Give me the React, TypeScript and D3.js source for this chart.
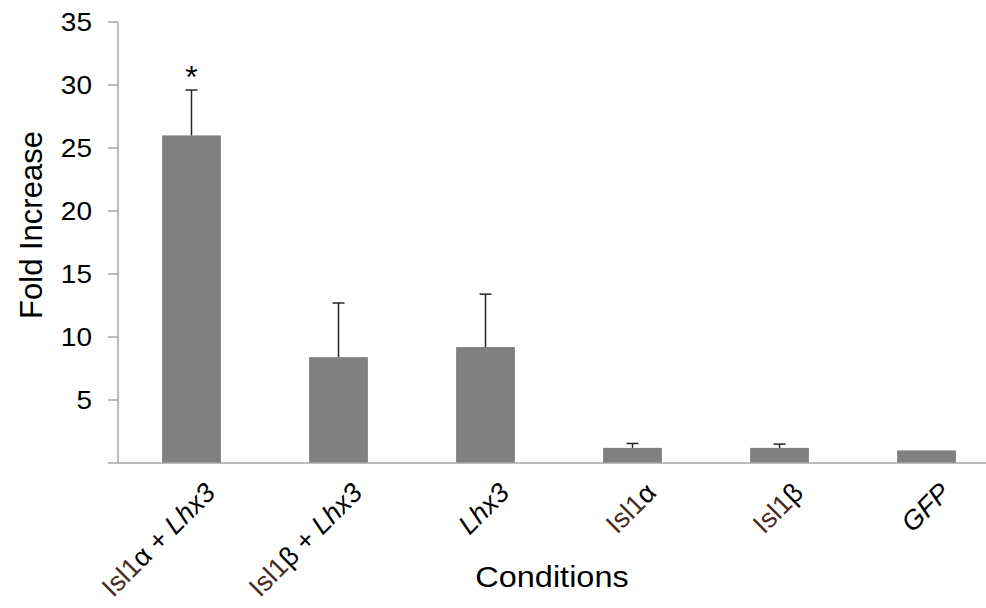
import React, { useEffect } from 'react';
import * as d3 from 'd3';

// label parts: [text, kind]  kind: 'isl' brown, 'it' italic, 'n' normal
const labelParts: [string, string][][] = [
  [['Isl1', 'isl'], ['α + ', 'n'], ['Lhx3', 'it']],
  [['Isl1', 'isl'], ['β + ', 'n'], ['Lhx3', 'it']],
  [['Lhx3', 'it']],
  [['Isl1', 'isl'], ['α', 'n']],
  [['Isl1', 'isl'], ['β', 'n']],
  [['GFP', 'it']],
];
const categories = ['Isl1a+Lhx3', 'Isl1b+Lhx3', 'Lhx3', 'Isl1a', 'Isl1b', 'GFP'];
const values = [26.0, 8.4, 9.2, 1.2, 1.2, 1.0];
const errors = [3.6, 4.3, 4.2, 0.35, 0.3, 0];
const significant = [true, false, false, false, false, false];
const yTicks = [5, 10, 15, 20, 25, 30, 35];

const W = 986;
const H = 608;
const FONT = 'Liberation Sans, Arial, Helvetica, sans-serif';
const SX = 1.12; // the source picture is a bit stretched sideways

const App = () => {
  useEffect(() => {
    document.body.style.margin = '0';
  }, []);

  const y = d3.scaleLinear().domain([0, 35]).range([463, 22]);
  const x = d3.scaleBand<string>()
    .domain(categories)
    .range([118, 1000])
    .paddingInner(0.6)
    .paddingOuter(0.3);

  const axisColor = '#a6a6a6';
  const capW = 12;

  return (
    <svg width={W} height={H} style={{ display: 'block', background: '#fff' }} fontFamily={FONT}>
      {/* y axis */}
      <line x1={118} x2={118} y1={y(35)} y2={y(0)} stroke={axisColor} strokeWidth={1.5} />
      {yTicks.map(t => (
        <g key={t}>
          <line x1={108} x2={118} y1={y(t)} y2={y(t)} stroke={axisColor} strokeWidth={1.5} />
          <text transform={`translate(92,${y(t)}) scale(${SX},1)`} dy="0.36em" textAnchor="end" fontSize={25} fill="#000">{t}</text>
        </g>
      ))}

      {/* bars */}
      {categories.map((c, i) => (
        <rect key={c} x={x(c)} y={y(values[i])} width={x.bandwidth()} height={y(0) - y(values[i])} fill="#808080" />
      ))}

      {/* error bars */}
      {categories.map((c, i) => {
        if (!errors[i]) return null;
        const cx = (x(c) as number) + x.bandwidth() / 2;
        return (
          <g key={c} stroke="#262626" strokeWidth={1.5}>
            <line x1={cx} x2={cx} y1={y(values[i])} y2={y(values[i] + errors[i])} />
            <line x1={cx - capW / 2} x2={cx + capW / 2} y1={y(values[i] + errors[i])} y2={y(values[i] + errors[i])} />
          </g>
        );
      })}

      {/* significance */}
      {categories.map((c, i) => significant[i] ? (
        <text key={c} x={(x(c) as number) + x.bandwidth() / 2} y={y(values[i] + errors[i]) - 2}
          textAnchor="middle" fontSize={32} fill="#000">*</text>
      ) : null)}

      {/* x axis */}
      <line x1={108} x2={W} y1={y(0)} y2={y(0)} stroke={axisColor} strokeWidth={1.5} />

      {/* category labels */}
      {categories.map((c, i) => {
        const cx = (x(c) as number) + x.bandwidth() / 2 + 11;
        return (
          <text key={c} transform={`translate(${cx},480) rotate(-45)`} textAnchor="end" dy="0.75em" fontSize={27} fill="#000">
            {labelParts[i].map(([t, k], j) => (
              <tspan key={j} fill={k === 'isl' ? '#4a2c1e' : '#000'} fontStyle={k === 'it' ? 'italic' : 'normal'}>{t}</tspan>
            ))}
          </text>
        );
      })}

      {/* axis titles */}
      <text transform="translate(42,225) rotate(-90)" textAnchor="middle" fontSize={31} fill="#000">Fold Increase</text>
      <text transform={`translate(552,587) scale(${SX},1)`} textAnchor="middle" fontSize={29} fill="#000">Conditions</text>
    </svg>
  );
};

export default App;
